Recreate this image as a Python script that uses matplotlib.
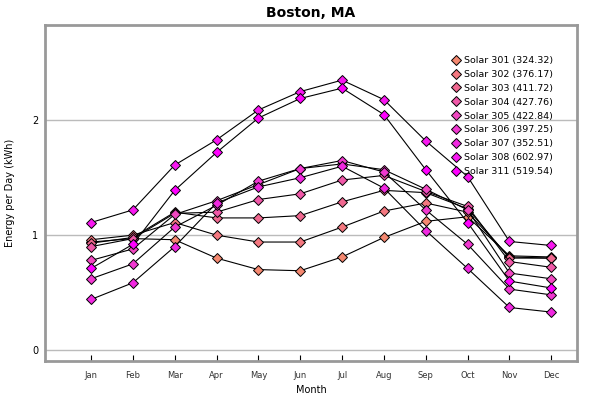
import matplotlib
matplotlib.use("Agg")
import matplotlib.pyplot as plt
from matplotlib.lines import Line2D

months = ["Jan", "Feb", "Mar", "Apr", "May", "Jun", "Jul", "Aug", "Sep", "Oct", "Nov", "Dec"]
names = ["Solar 301 (324.32)", "Solar 302 (376.17)", "Solar 303 (411.72)", "Solar 304 (427.76)",
         "Solar 305 (422.84)", "Solar 306 (397.25)", "Solar 307 (352.51)", "Solar 308 (602.97)",
         "Solar 311 (519.54)"]

s301 = [0.94, 0.97, 0.96, 0.80, 0.70, 0.69, 0.81, 0.98, 1.12, 1.16, 0.82, 0.81]
s302 = [0.96, 1.00, 1.11, 1.00, 0.94, 0.94, 1.07, 1.21, 1.28, 1.20, 0.81, 0.80]
s303 = [0.93, 0.98, 1.20, 1.15, 1.15, 1.17, 1.29, 1.39, 1.37, 1.23, 0.80, 0.80]
s304 = [0.90, 0.97, 1.19, 1.20, 1.31, 1.36, 1.48, 1.52, 1.38, 1.25, 0.77, 0.72]
s305 = [0.78, 0.88, 1.18, 1.30, 1.44, 1.58, 1.62, 1.57, 1.40, 1.22, 0.67, 0.62]
s306 = [0.62, 0.75, 1.07, 1.26, 1.47, 1.58, 1.65, 1.55, 1.22, 0.92, 0.53, 0.48]
s307 = [0.44, 0.585, 0.90, 1.28, 1.42, 1.50, 1.60, 1.41, 1.04, 0.71, 0.37, 0.33]
s308 = [1.11, 1.22, 1.61, 1.83, 2.09, 2.25, 2.35, 2.18, 1.82, 1.51, 0.945, 0.91]
s311 = [0.71, 0.92, 1.39, 1.72, 2.02, 2.19, 2.28, 2.05, 1.57, 1.11, 0.60, 0.54]
series = [s301, s302, s303, s304, s305, s306, s307, s308, s311]

colors = ["#F48870", "#F47880", "#F06890", "#F058A8", "#F048C0",
          "#F038D0", "#F028E0", "#F818F0", "#FF00FF"]

fig = plt.figure(figsize=(6, 4), dpi=100)
ax = fig.add_axes([0.075, 0.0975, 0.887, 0.84])

x = list(range(len(months)))
for vals, col in zip(series, colors):
    ax.plot(x, vals, color="black", lw=0.8, marker="D", ms=5.3,
            mfc=col, mec="black", mew=0.7, zorder=3)

ax.set_xlim(-1.1, 11.62)
ax.set_ylim(-0.096, 2.83)
ax.set_yticks([0, 1, 2])
ax.set_xticks(x)
ax.set_xticklabels(months)
ax.grid(axis="y", color="#bbbbbb", lw=1)
ax.tick_params(axis="x", direction="in", length=4, labelsize=6, labelcolor="#333333", pad=7)
ax.tick_params(axis="y", length=0, labelsize=7, pad=5)
for sp in ax.spines.values():
    sp.set_color("#999999")
    sp.set_linewidth(2)

ax.set_title("Boston, MA", fontsize=10, fontweight="bold", pad=6)
ax.set_ylabel("Energy per Day (kWh)", fontsize=7, labelpad=12)
ax.set_xlabel("Month", fontsize=7, labelpad=4)

handles = [Line2D([], [], ls="none", marker="D", ms=5.3, mfc=c, mec="black", mew=0.7)
           for c in colors]
leg = ax.legend(handles, names, loc="upper left", bbox_to_anchor=(0.757, 0.922),
                frameon=False, fontsize=6.8, handlelength=0.8, handletextpad=0.4,
                labelspacing=0.52, borderpad=0)

fig.savefig("out.png", dpi=100)
